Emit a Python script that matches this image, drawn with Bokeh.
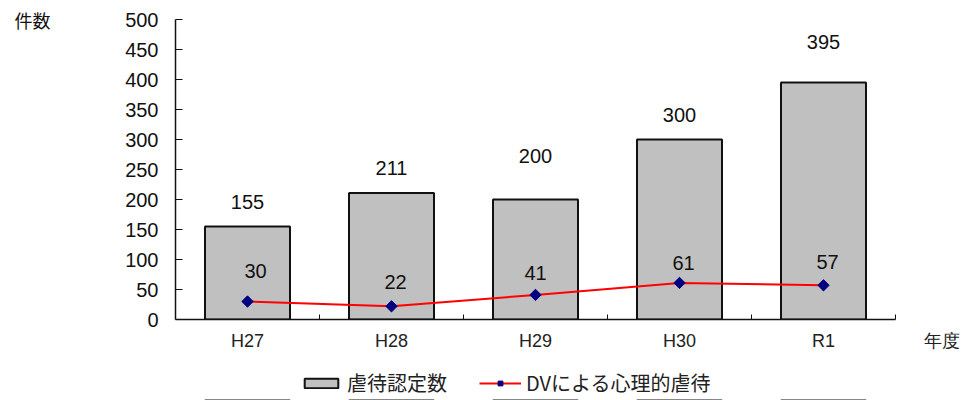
import math
from bokeh.plotting import figure
from bokeh.layouts import column
from bokeh.models import (ColumnDataSource, FixedTicker, Legend, LegendItem, Range1d,
                          LinearAxis)
from bokeh.core.properties import value
from bokeh.embed import file_html
from bokeh.resources import INLINE

categories = ["H27", "H28", "H29", "H30", "R1"]
abuse_cases = [155, 211, 200, 300, 395]
dv_cases = [30, 22, 41, 61, 57]
y_ticks = [0, 50, 100, 150, 200, 250, 300, 350, 400, 450, 500]
x_title = "年度"
y_title = "件数"
series_names = ["虐待認定数", "DVによる心理的虐待"]

bar_label_lift = [25, 25, 44, 25, 41]
dv_label_lift = [31, 24, 22, 20, 23]
dv_label_shift = [8, 4, 0, 4, 4]

n = len(categories)
xs = [i + 0.5 for i in range(n)]
src = ColumnDataSource(dict(
    x=xs, cases=abuse_cases, dv=dv_cases,
    cases_txt=[str(v) for v in abuse_cases], dv_txt=[str(v) for v in dv_cases],
    bl=[-v for v in bar_label_lift], dl=[-v for v in dv_label_lift], ds=dv_label_shift,
))

NUM = value("Liberation Sans")
JP = "Noto Sans CJK JP"
BAR_STYLE = dict(fill_color="#c0c0c0", line_color="#111111", line_width=2)
LINE_STYLE = dict(line_color="#ff0000", line_width=2)
MARK_STYLE = dict(marker="square", size=8, angle=math.pi / 4,
                  fill_color="#000080", line_color="#000080")

# main chart: frame 175 px from the left, 720 px for the 5 categories (144 px each),
# extended to the right edge so the x title can sit on the label row
x_end = n + 77 / 144
p = figure(width=972, height=362, x_range=Range1d(0, x_end), y_range=Range1d(0, 500),
           output_backend="svg", toolbar_location=None, x_axis_type=None,
           min_border_left=175, min_border_right=0, min_border_top=19, min_border_bottom=43)
p.outline_line_color = None
p.ygrid.visible = False
p.background_fill_color = "white"
p.border_fill_color = "white"

p.vbar(x="x", top="cases", width=0.59, bottom=0, source=src, **BAR_STYLE)
p.line(x="x", y="dv", source=src, **LINE_STYLE)
p.scatter(x="x", y="dv", source=src, **MARK_STYLE)

p.text(x="x", y="cases", text="cases_txt", source=src, y_offset="bl",
       text_align="center", text_baseline="middle", text_font=NUM,
       text_font_size="20px", text_color="#111111")
p.text(x="x", y="dv", text="dv_txt", source=src, y_offset="dl", x_offset="ds",
       text_align="center", text_baseline="middle", text_font=NUM,
       text_font_size="20px", text_color="#111111")

# y axis
ya = p.yaxis[0]
ya.ticker = FixedTicker(ticks=y_ticks)
ya.major_tick_in = 7
ya.major_tick_out = 0
ya.minor_tick_in = 0
ya.minor_tick_out = 0
ya.axis_line_color = "#111111"
ya.axis_line_width = 1.5
ya.major_tick_line_color = "#111111"
ya.major_label_standoff = 17
ya.major_label_text_font = "Liberation Sans"
ya.major_label_text_font_size = "20px"
ya.major_label_text_color = "#111111"

# y title as a one-tick axis further left, level with the top tick
yt = LinearAxis(ticker=FixedTicker(ticks=[y_ticks[-1]]),
                major_label_overrides={y_ticks[-1]: y_title},
                axis_line_color=None, major_tick_in=0, major_tick_out=0,
                minor_tick_in=0, minor_tick_out=0, major_label_standoff=72,
                major_label_text_font=JP, major_label_text_font_size="18px",
                major_label_text_color="#111111")
p.add_layout(yt, "left")

# x axis line with boundary ticks (limited to the categories)
xa_line = LinearAxis(ticker=FixedTicker(ticks=[0], minor_ticks=list(range(1, n + 1))),
                     bounds=(0, n), major_tick_in=0, major_tick_out=0,
                     minor_tick_in=5, minor_tick_out=0, minor_tick_line_color="#111111",
                     axis_line_color="#111111", axis_line_width=1.5,
                     major_label_overrides={0: " "},
                     major_label_standoff=0, major_label_text_font_size="1px")
p.add_layout(xa_line, "below")

# category labels + x title
x_title_pos = n + 0.32
xa_lab = LinearAxis(ticker=FixedTicker(ticks=xs + [x_title_pos]),
                    major_label_overrides={**{x: c for x, c in zip(xs, categories)},
                                           x_title_pos: x_title},
                    axis_line_color=None, major_tick_in=0, major_tick_out=0,
                    minor_tick_in=0, minor_tick_out=0, major_label_standoff=7,
                    major_label_text_font="Liberation Sans",
                    major_label_text_font_size="18px", major_label_text_color="#222222")
p.add_layout(xa_lab, "below")

# legend strip under the chart; the key renderers share the chart's source but
# the strip's y range lies above all values, so only the legend keys are seen
lg = figure(width=972, height=38, x_range=Range1d(0, x_end), y_range=Range1d(1000, 1038),
            output_backend="svg", toolbar_location=None, x_axis_type=None, y_axis_type=None,
            min_border=0)
lg.outline_line_color = None
lg.xgrid.visible = False
lg.ygrid.visible = False
lg.background_fill_color = "white"
lg.border_fill_color = "white"
k_bar = lg.vbar(x="x", top="cases", width=0.59, bottom=0, source=src, **BAR_STYLE)
k_line = lg.line(x="x", y="dv", source=src, **LINE_STYLE)
k_mark = lg.scatter(x="x", y="dv", source=src, **MARK_STYLE)
legend = Legend(items=[LegendItem(label=series_names[0], renderers=[k_bar]),
                       LegendItem(label=series_names[1], renderers=[k_line, k_mark])],
                orientation="horizontal", location=(125, 3),
                glyph_width=42, glyph_height=12, spacing=32, padding=0, margin=0,
                label_text_font=JP, label_text_font_size="20px", label_text_color="#222222",
                label_standoff=5, border_line_color=None, background_fill_alpha=0)
lg.add_layout(legend, "center")

open("out.html", "w").write(file_html(column(p, lg), INLINE))
